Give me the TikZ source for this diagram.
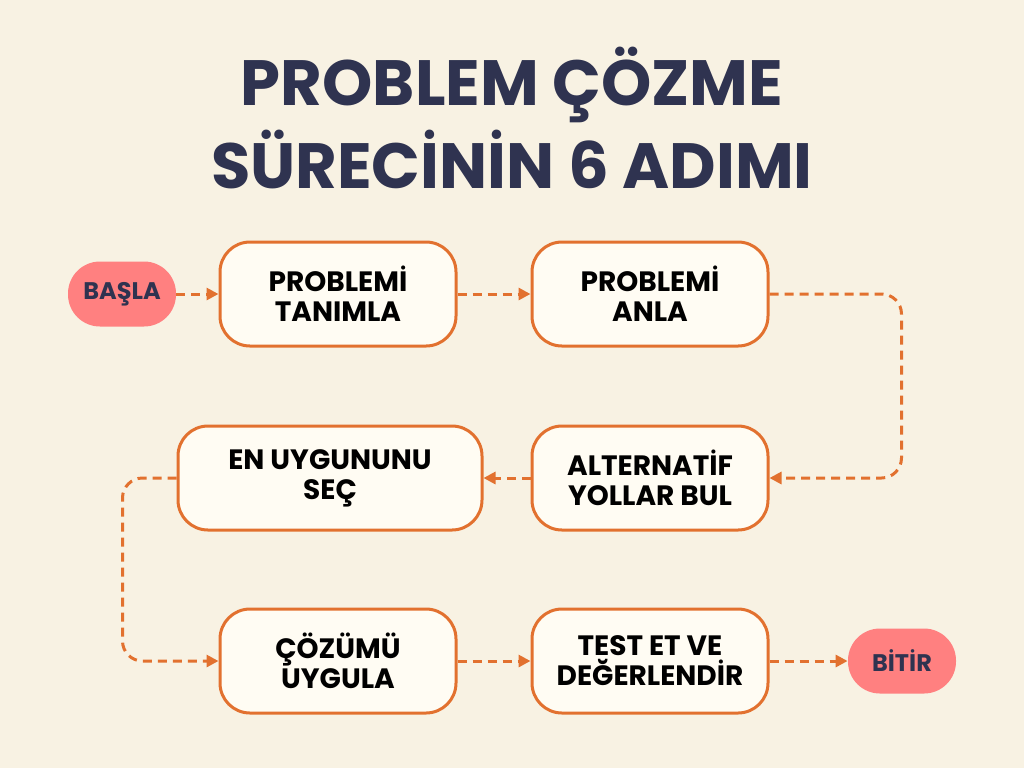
\documentclass[tikz,border=0pt]{standalone}
\usepackage{fontspec}
\setmainfont{Poppins}
\usetikzlibrary{arrows.meta,positioning}

\definecolor{bgcream}{HTML}{F8F2E3}
\definecolor{boxfill}{HTML}{FFFCF3}
\definecolor{edgeorange}{HTML}{E2712F}
\definecolor{pillred}{HTML}{FF8080}
\definecolor{titlenavy}{HTML}{2F3350}

\tikzset{
  stepbox/.style={draw=edgeorange, line width=1.5pt, fill=boxfill, rounded corners=15pt,
    minimum width=118pt, minimum height=52pt, inner sep=0pt, align=center,
    font=\bfseries\fontsize{14}{15}\selectfont},
  pill/.style={fill=pillred, rounded corners=16pt, minimum width=54pt, minimum height=32.5pt,
    inner sep=0pt, text=titlenavy, font=\bfseries\fontsize{12}{14}\selectfont},
  flow/.style={draw=edgeorange, line width=1.5pt, dash pattern=on 4.5pt off 3pt,
    rounded corners=10pt, -{Triangle[length=6pt,width=6pt]}},
  headline/.style={anchor=base, text=titlenavy, font=\bfseries\fontsize{32}{38}\selectfont}
}

\begin{document}
\begin{tikzpicture}[x=0.5pt,y=-0.5pt]
  \fill[bgcream] (0,0) rectangle (1024,768);

  % title
  \node[headline] (title1) at (512,105) {PROBLEM ÇÖZME};
  \node[headline] (title2) at (512,188) {SÜRECİNİN 6 ADIMI};

  % steps
  \node[pill] (start) at (122,294) {BAŞLA};
  \node[stepbox] (define) at (338,294) {PROBLEMİ\\TANIMLA};
  \node[stepbox] (grasp) at (650,294) {PROBLEMİ\\ANLA};
  \node[stepbox] (options) at (650,478) {ALTERNATİF\\YOLLAR BUL};
  \node[stepbox, minimum width=152pt] (choose) at (330,478) {EN UYGUNUNU\\SEÇ};
  \node[stepbox] (apply) at (338,661) {ÇÖZÜMÜ\\UYGULA};
  \node[stepbox] (check) at (650,661) {TEST ET VE\\DEĞERLENDİR};
  \node[pill] (finish) at (902,661) {BİTİR};

  % connectors
  \draw[flow] (start) -- (define);
  \draw[flow] (define) -- (grasp);
  \draw[flow] (grasp.east) -- ++(132,0) |- (options.east);
  \draw[flow] (options) -- (choose);
  \draw[flow] (choose.west) -- ++(-54,0) |- (apply.west);
  \draw[flow] (apply) -- (check);
  \draw[flow] (check) -- (finish);
\end{tikzpicture}
\end{document}
